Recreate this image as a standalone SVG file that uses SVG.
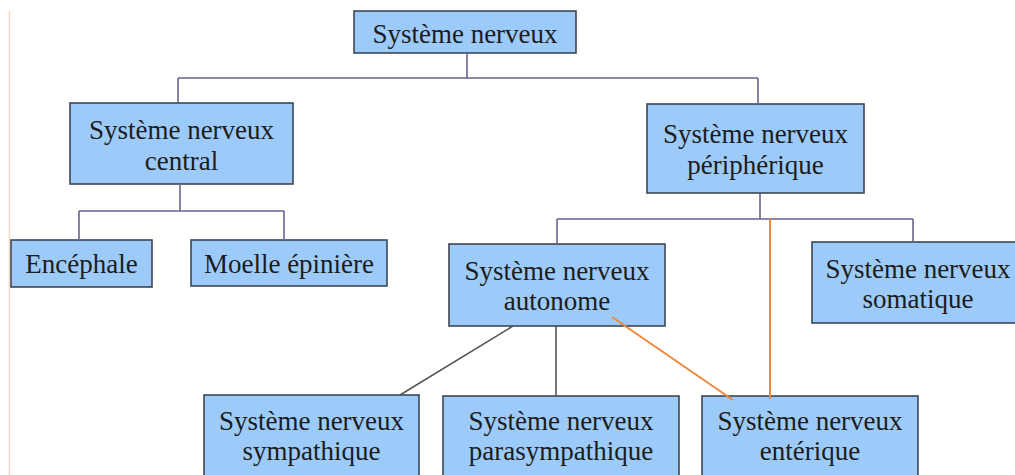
<svg xmlns="http://www.w3.org/2000/svg" width="1015" height="475" viewBox="0 0 1015 475">
<style>
.box{fill:#9dcbf9;stroke:#3d4654;stroke-width:1.6}
.t{font-family:"Liberation Serif","Times New Roman",serif;font-size:27px;fill:#1c1c1c;text-anchor:middle}
.tree{stroke:#66658a;stroke-width:1.6;fill:none}
.gray{stroke:#555;stroke-width:1.6;fill:none}
.orange{stroke:#f0873a;stroke-width:2;fill:none}
</style>
<rect width="1015" height="475" fill="#ffffff"/>
<line x1="9.5" y1="11" x2="9.5" y2="475" stroke="#fbd6c2" stroke-width="1.5"/>
<g id="n-root"><rect class="box" x="354" y="11" width="222" height="42"/><text class="t" x="465" y="43">Système nerveux</text></g>
<g id="n-central"><rect class="box" x="70" y="103" width="223" height="81"/><text class="t" x="181.5" y="139">Système nerveux</text><text class="t" x="181.5" y="170">central</text></g>
<g id="n-peripherique"><rect class="box" x="647" y="104" width="217" height="89"/><text class="t" x="755.5" y="143">Système nerveux</text><text class="t" x="755.5" y="174">périphérique</text></g>
<g id="n-encephale"><rect class="box" x="11" y="240" width="141" height="47"/><text class="t" x="81.5" y="273">Encéphale</text></g>
<g id="n-moelle"><rect class="box" x="191" y="240" width="196" height="46"/><text class="t" x="289" y="273">Moelle épinière</text></g>
<g id="n-autonome"><rect class="box" x="449" y="244" width="216" height="82"/><text class="t" x="557" y="280">Système nerveux</text><text class="t" x="557" y="310">autonome</text></g>
<g id="n-somatique"><rect class="box" x="812" y="242" width="212" height="81"/><text class="t" x="918" y="278">Système nerveux</text><text class="t" x="918" y="308">somatique</text></g>
<g id="n-sympathique"><rect class="box" x="204" y="395" width="215" height="90"/><text class="t" x="311.5" y="430">Système nerveux</text><text class="t" x="311.5" y="460">sympathique</text></g>
<g id="n-parasympathique"><rect class="box" x="443" y="396" width="236" height="90"/><text class="t" x="561" y="430">Système nerveux</text><text class="t" x="561" y="460">parasympathique</text></g>
<g id="n-enterique"><rect class="box" x="702" y="396" width="216" height="90"/><text class="t" x="810" y="430">Système nerveux</text><text class="t" x="810" y="460">entérique</text></g>
<g id="connectors">
<path class="tree" d="M467 53V78M178 78H758M178 78V103M758 78V104"/>
<path class="tree" d="M180 184V211M79 211H284M79 211V240M284 211V240"/>
<path class="tree" d="M760 193V219M557 219H913M557 219V244M913 219V242"/>
<path class="gray" d="M513 326L400 395M556 326V396"/>
<path class="orange" d="M612 317L733 400M770 219V399"/>
</g>
</svg>
